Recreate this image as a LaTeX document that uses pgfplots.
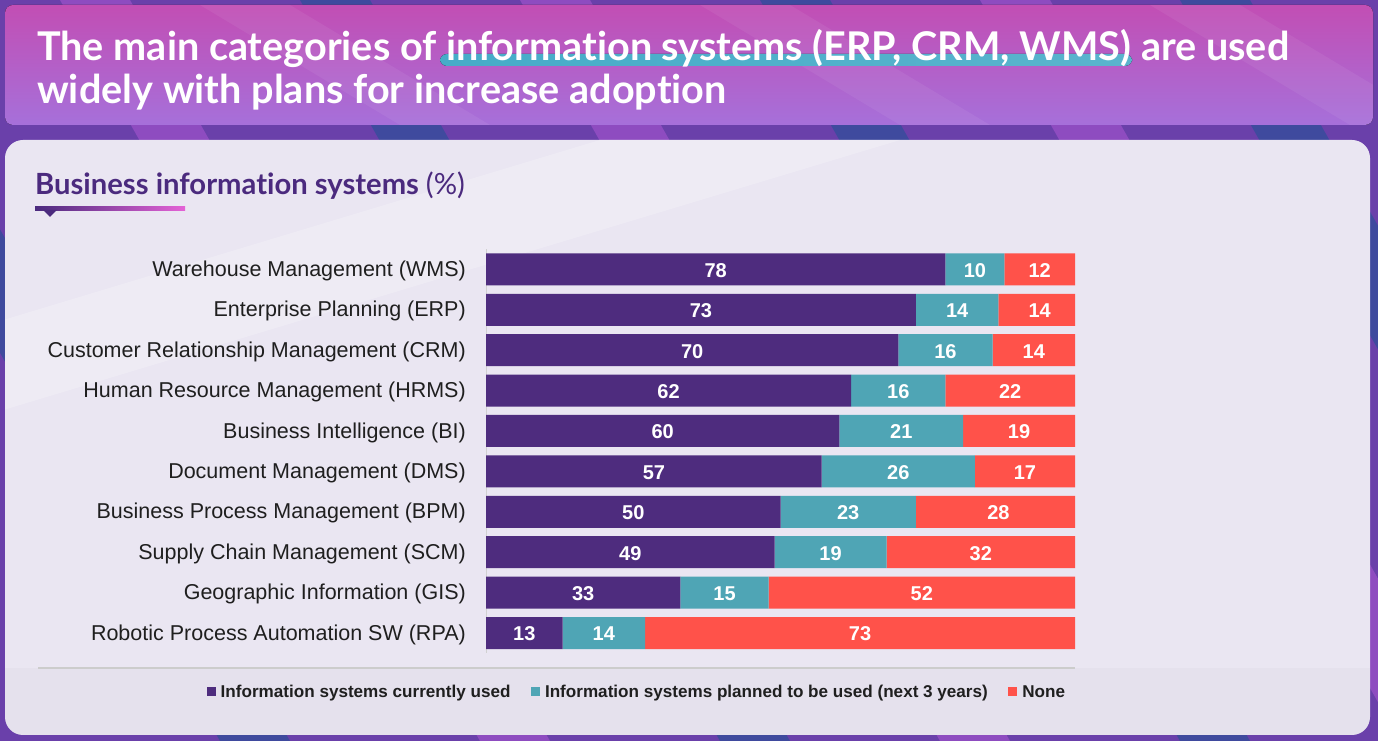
\documentclass[border=0pt]{standalone}
\usepackage{pgfplots}
\pgfplotsset{compat=1.18}
\usepackage{pgfplotstable}
\usepackage{fontspec}
\setmainfont{Liberation Sans}
\newfontfamily\titlefont[Ligatures=CommonOff]{Lato}
\definecolor{cpur}{HTML}{4E2C7E}
\definecolor{cteal}{HTML}{4FA5B5}
\definecolor{cred}{HTML}{FF524A}
\definecolor{bgpur}{HTML}{6A40AA}
\definecolor{bgblue}{HTML}{3F4A9E}
\definecolor{bgmag}{HTML}{8E4CC0}
\definecolor{panel}{HTML}{EAE6F2}
\definecolor{subt}{HTML}{4B2A7E}
\pgfplotstableread{
cur plan none
78 10 12
73 14 14
70 16 14
62 16 22
60 21 19
57 26 17
50 23 28
49 19 32
33 15 52
13 14 73
}\data
\begin{document}
\begin{tikzpicture}[x=1pt,y=1pt]
\useasboundingbox (0,0) rectangle (1378,741);
% background
\fill[bgpur] (0,0) rectangle (1378,741);
\foreach \a/\c in {-200/bgblue,60/bgmag,300/bgblue,520/bgmag,760/bgblue,980/bgmag,1180/bgblue,1400/bgmag}{
  \fill[\c] (\a,741) -- (\a+70,741) -- (\a+70+420,0) -- (\a+420,0) -- cycle;
}
% title band
\fill[rounded corners=8pt, top color={rgb,255:red,194;green,78;blue,180}, bottom color={rgb,255:red,166;green,112;blue,218}] (5,616) rectangle (1373,736);
\begin{scope}
\clip[rounded corners=8pt] (5,616) rectangle (1373,736);
\foreach \a in {200,700,1150}{
  \fill[white, opacity=0.06] (\a,736) -- (\a+90,736) -- (\a+90+200,616) -- (\a+200,616) -- cycle;
}
\end{scope}
% highlight swoosh
\fill[rounded corners=7pt, left color={rgb,255:red,70;green,172;blue,200}, right color={rgb,255:red,90;green,180;blue,205}] (440,675) rectangle (1132,687);
\node[anchor=base west, inner sep=0pt, text=white, font=\titlefont\bfseries\fontsize{39.6}{39.6}\selectfont] at (37,680) {The main categories of information systems (ERP, CRM, WMS) are used};
\node[anchor=base west, inner sep=0pt, text=white, font=\titlefont\bfseries\fontsize{39.6}{39.6}\selectfont] at (37,637) {widely with plans for increase adoption};
% panel
\fill[panel, rounded corners=18pt] (5,6) rectangle (1370,601);
\begin{scope}
\clip[rounded corners=18pt] (5,6) rectangle (1370,601);
\fill[white, opacity=0.22] (0,420) -- (600,601) -- (900,601) -- (0,330) -- cycle;
\fill[black!40!panel, opacity=0.05] (5,6) rectangle (1370,73);
\end{scope}
% subtitle
\node[anchor=base west, inner sep=0pt, text=subt, font=\titlefont\fontsize{29.2}{29.2}\selectfont] at (35,546) {\bfseries Business information systems \mdseries(\%)};
\shade[left color=subt, right color={rgb,255:red,228;green,98;blue,214}] (35,530) rectangle (185,534);
\fill[subt] (43,531) -- (57,531) -- (50,524) -- cycle;
% separator
\draw[black!20, line width=2pt] (38,73) -- (1075,73);

\begin{axis}[
  at={(486pt,87.8pt)}, anchor=south west, scale only axis,
  width=589pt, height=404pt,
  xbar stacked, bar width=32pt,
  xmin=0, xmax=100, ymin=-0.5, ymax=9.5, y dir=reverse,
  axis x line=none, axis y line*=left,
  y axis line style={draw=black!18, line width=1pt},
  ytick={0,...,9},
  yticklabels={Warehouse Management (WMS),Enterprise Planning (ERP),Customer Relationship Management (CRM),Human Resource Management (HRMS),Business Intelligence (BI),Document Management (DMS),Business Process Management (BPM),Supply Chain Management (SCM),Geographic Information (GIS),Robotic Process Automation SW (RPA)},
  major tick length=0pt,
  yticklabel style={font=\fontsize{21.5}{21.5}\selectfont, text=black!88, inner sep=0pt, anchor=east, xshift=-20pt, yshift=-1.5pt},
  legend style={at={(-0.4745,-0.096)}, anchor=west, legend columns=3, draw=none, fill=none, inner sep=0pt,
    font=\bfseries\fontsize{17.1}{17.1}\selectfont, text=black!88,
    nodes={inner sep=2.5pt},
    /tikz/every even column/.append style={column sep=18pt}},
  legend image code/.code={\fill[#1] (0pt,-4.5pt) rectangle (9pt,4.5pt); \path (11.5pt,0pt);},
]
\addplot[fill=cpur, draw=none] table[x=cur, y expr=\coordindex]{\data};
\addplot[fill=cteal, draw=none] table[x=plan, y expr=\coordindex]{\data};
\addplot[fill=cred, draw=none] table[x=none, y expr=\coordindex]{\data};
\legend{Information systems currently used, Information systems planned to be used (next 3 years), None}
\end{axis}

\begin{axis}[
  at={(486pt,87.8pt)}, anchor=south west, scale only axis,
  width=589pt, height=404pt,
  xmin=0, xmax=100, ymin=-0.5, ymax=9.5, y dir=reverse,
  axis lines=none, ticks=none, clip=false,
  /pgf/number format/assume math mode=true,
  nodes near coords, point meta=explicit,
  nodes near coords align={center},
  every node near coord/.append style={anchor=center, text=white, font=\bfseries\fontsize{20}{20}\selectfont, inner sep=0pt, yshift=-1pt},
]
\addplot[draw=none, mark=none] table[x expr=\thisrow{cur}/2, y expr=\coordindex, meta=cur]{\data};
\addplot[draw=none, mark=none] table[x expr=\thisrow{cur}+\thisrow{plan}/2, y expr=\coordindex, meta=plan]{\data};
\addplot[draw=none, mark=none] table[x expr=\thisrow{cur}+\thisrow{plan}+\thisrow{none}/2, y expr=\coordindex, meta=none]{\data};
\end{axis}
\end{tikzpicture}
\end{document}
